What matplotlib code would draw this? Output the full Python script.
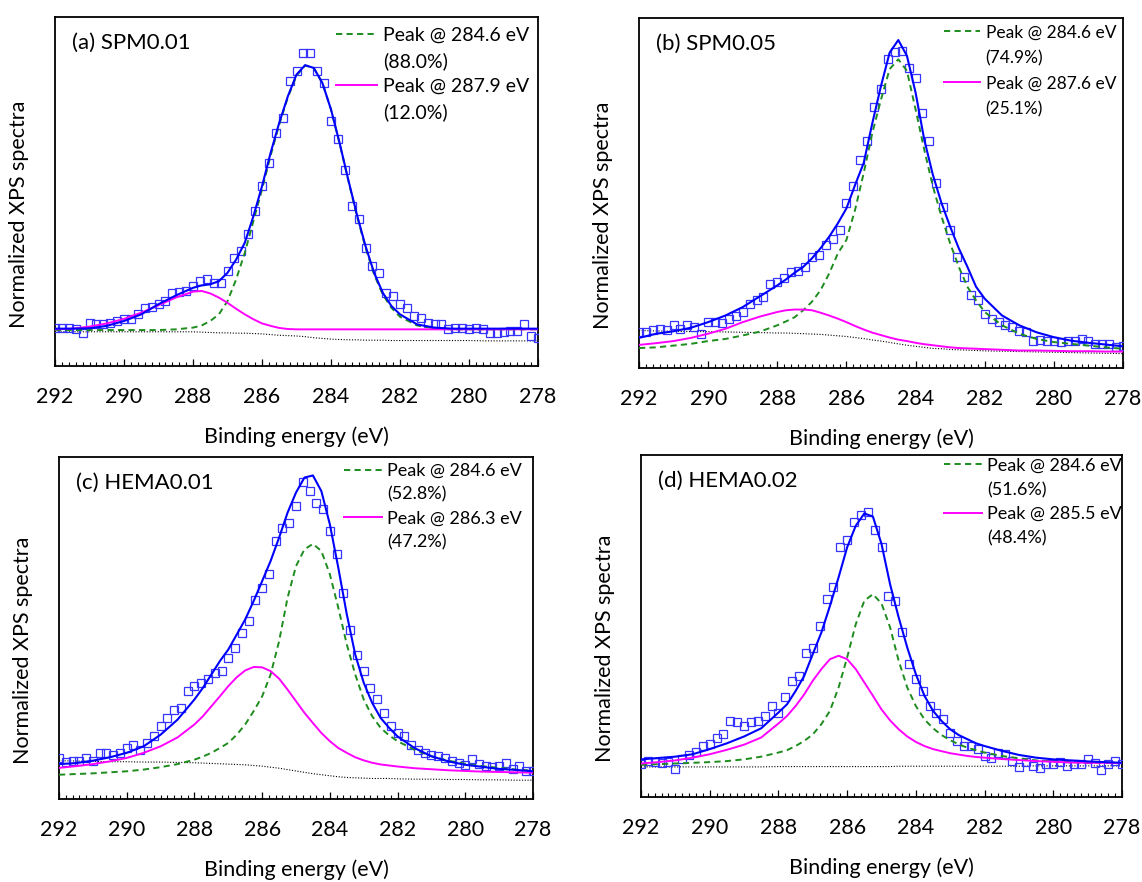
import numpy as np
import matplotlib
matplotlib.use("Agg")
import matplotlib.pyplot as plt
from matplotlib.lines import Line2D
from matplotlib.ticker import MultipleLocator

plt.rcParams['font.family'] = ['Lato', 'DejaVu Sans']

# ---------------- data (normalized intensity, % of panel height) ----------------
scan_energy = np.linspace(292.0, 278.0, 71)          # measured points, 0.2 eV step

curve_energy = [292, 291.5, 291, 290.5, 290, 289.5, 289, 288.5, 288,
                287.75, 287.5, 287.25, 287, 286.75, 286.5, 286.25, 286,
                285.75, 285.5, 285.25, 285, 284.75, 284.5, 284.25, 284,
                283.75, 283.5, 283.25, 283, 282.75, 282.5, 282.25, 282,
                281.5, 281, 280.5, 280, 279.5, 279, 278.5, 278]

panel_titles = ["(a) SPM0.01", "(b) SPM0.05", "(c) HEMA0.01", "(d) HEMA0.02"]
peak1_labels = ["Peak @ 284.6 eV", "Peak @ 284.6 eV", "Peak @ 284.6 eV", "Peak @ 284.6 eV"]
peak1_share = ["(88.0%)", "(74.9%)", "(52.8%)", "(51.6%)"]
peak2_labels = ["Peak @ 287.9 eV", "Peak @ 287.6 eV", "Peak @ 286.3 eV", "Peak @ 285.5 eV"]
peak2_share = ["(12.0%)", "(25.1%)", "(47.2%)", "(48.4%)"]
x_ticks = [292, 290, 288, 286, 284, 282, 280, 278]

# (a) SPM0.01
spm001_points = [11.0, 11.0, 11.0, 10.5, 9.5, 12.4, 11.9, 11.9, 12.4, 12.9,
                 13.4, 13.4, 14.8, 16.7, 17.0, 17.7, 18.6, 21.0, 21.2, 21.5,
                 22.9, 24.3, 24.8, 23.9, 23.9, 27.2, 31.0, 32.9, 37.7, 44.4,
                 51.5, 58.2, 66.8, 71.1, 81.6, 84.4, 89.7, 89.7, 84.4, 81.1,
                 70.1, 64.9, 56.3, 45.8, 42.0, 33.9, 28.6, 26.7, 21.0, 20.0,
                 17.7, 16.7, 14.3, 13.8, 12.4, 11.9, 11.9, 10.5, 11.0, 11.0,
                 10.5, 11.0, 10.5, 9.5, 9.5, 9.7, 10.0, 10.0, 11.9, 8.6, 8.1]
spm001_fit = [10.7, 10.7, 10.8, 11.5, 12.9, 14.8, 17.7, 20.2, 22.4, 23.1, 23.4, 24.3,
              26.7, 30.5, 35.3, 42.9, 51.5, 61.1, 69.7, 77.3, 83.5, 86.2, 85.4, 81.1,
              73.5, 63.9, 53.4, 43.4, 34.4, 26.7, 21.0, 17.2, 14.8, 11.9, 11.0, 10.7,
              10.7, 10.7, 10.7, 10.7, 10.7]
spm001_peak1 = [10.3, 10.3, 10.3, 10.3, 10.3, 10.3, 10.3, 10.5, 11.0, 11.6, 12.9, 14.8,
                18.6, 24.8, 32.4, 41.5, 50.6, 60.3, 69.2, 77.0, 83.2, 86.1, 85.4, 81.1,
                73.5, 63.7, 53.2, 43.1, 33.9, 26.2, 20.5, 16.7, 14.1, 11.6, 10.8, 10.5,
                10.5, 10.5, 10.5, 10.5, 10.5]
spm001_peak2 = [10.5, 10.7, 11.3, 12.2, 13.5, 15.3, 17.4, 19.6, 21.3, 21.5, 20.8, 19.6,
                18.1, 16.4, 14.8, 13.4, 12.2, 11.5, 10.9, 10.6, 10.5, 10.5, 10.5, 10.5,
                10.5, 10.5, 10.5, 10.5, 10.5, 10.5, 10.5, 10.5, 10.5, 10.5, 10.5, 10.5,
                10.5, 10.5, 10.5, 10.5, 10.5]
spm001_background = [9.8, 9.8, 9.8, 9.8, 9.8, 9.8, 9.8, 9.8, 9.8, 9.7, 9.6, 9.5, 9.5,
                     9.4, 9.4, 9.3, 9.2, 9.0, 8.8, 8.7, 8.6, 8.4, 8.1, 7.9, 7.7, 7.6,
                     7.5, 7.5, 7.4, 7.4, 7.4, 7.3, 7.3, 7.3, 7.3, 7.3, 7.3, 7.2, 7.2,
                     7.2, 7.2]

# (b) SPM0.05
spm005_points = [10.4, 10.2, 11.0, 11.2, 10.9, 12.2, 11.2, 12.4, 11.7, 9.8,
                 13.1, 13.1, 12.8, 14.1, 15.0, 16.0, 18.4, 19.3, 20.3, 24.1,
                 24.6, 25.6, 27.5, 27.7, 28.9, 31.8, 32.2, 35.1, 37.0, 39.4,
                 47.1, 51.9, 59.5, 64.8, 74.6, 79.6, 88.2, 90.3, 90.6, 85.8,
                 83.0, 72.9, 64.8, 52.8, 46.1, 39.4, 31.8, 26.0, 20.8, 19.3,
                 15.5, 14.1, 13.1, 12.2, 11.7, 10.7, 10.2, 7.8, 8.0, 7.8,
                 7.7, 7.4, 7.8, 7.8, 8.3, 7.8, 6.9, 6.9, 6.9, 5.9, 6.4]
spm005_fit = [8.6, 9.8, 10.5, 11.5, 13.1, 15.0, 17.4, 20.5, 23.6, 25.3, 27.2, 28.9,
              31.3, 34.2, 37.5, 41.3, 45.6, 52.3, 58.6, 70.0, 80.6, 90.1, 93.7, 89.2,
              78.7, 65.3, 55.2, 47.1, 40.4, 34.2, 28.9, 23.2, 19.8, 15.0, 12.2, 10.2,
              8.8, 7.8, 7.2, 6.7, 6.2]
spm005_peak1 = [5.7, 5.9, 6.4, 6.9, 7.7, 8.3, 9.3, 10.4, 12.2, 13.3, 14.5, 16.5, 18.9,
                22.2, 27.0, 32.7, 36.6, 45.2, 55.7, 67.2, 76.7, 85.4, 88.2, 84.9, 73.9,
                62.4, 51.9, 43.3, 35.6, 28.9, 23.2, 19.3, 16.0, 12.2, 9.8, 8.3, 7.4,
                6.9, 6.4, 5.9, 5.5]
spm005_peak2 = [6.6, 7.1, 7.7, 8.6, 9.8, 11.2, 13.1, 14.7, 16.0, 16.5, 16.7, 16.7, 16.5,
                15.8, 15.0, 14.1, 13.1, 12.0, 11.0, 10.1, 9.4, 8.7, 8.1, 7.7, 7.2, 6.8,
                6.5, 6.2, 5.9, 5.7, 5.6, 5.5, 5.4, 5.2, 5.0, 5.0, 4.9, 4.8, 4.8, 4.7,
                4.7]
spm005_background = [10.7, 10.6, 10.5, 10.4, 10.4, 10.3, 10.2, 10.1, 10.0, 10.0, 9.9,
                     9.8, 9.7, 9.6, 9.4, 9.2, 9.0, 8.7, 8.4, 8.0, 7.7, 7.3, 6.9, 6.5,
                     6.2, 5.9, 5.6, 5.5, 5.3, 5.2, 5.1, 5.0, 4.9, 4.8, 4.7, 4.6, 4.5,
                     4.4, 4.3, 4.2, 4.1]

# (c) HEMA0.01
hema001_points = [12.0, 10.8, 11.0, 11.2, 12.0, 11.0, 13.5, 13.5, 13.0, 13.5,
                  14.9, 15.9, 14.4, 16.4, 18.3, 21.3, 23.7, 26.1, 26.6, 31.5,
                  33.0, 34.0, 35.2, 36.9, 37.4, 41.3, 44.2, 48.6, 52.0, 58.3,
                  61.8, 65.7, 75.4, 79.3, 80.8, 85.7, 92.8, 90.0, 86.6, 84.7,
                  78.5, 71.5, 60.3, 49.3, 42.2, 37.4, 32.5, 29.1, 25.2, 21.3,
                  19.3, 18.3, 15.9, 14.4, 13.5, 13.0, 12.5, 12.0, 11.0, 10.5,
                  10.0, 11.8, 10.2, 9.6, 9.3, 9.6, 10.5, 8.9, 9.6, 8.3, 8.1]
hema001_fit = [10.2, 10.5, 11.2, 12.2, 13.5, 15.4, 18.8, 23.2, 29.1, 32.5, 36.4, 40.3,
               43.7, 48.1, 52.5, 57.9, 63.7, 69.6, 76.4, 83.7, 89.6, 94.0, 94.6, 90.0,
               80.3, 67.6, 54.0, 42.2, 34.0, 28.1, 23.7, 20.8, 18.3, 14.9, 12.5, 11.0,
               10.0, 9.4, 8.8, 8.5, 8.1]
hema001_peak1 = [7.1, 7.3, 7.5, 7.8, 8.1, 8.6, 9.3, 10.2, 11.5, 12.4, 13.5, 14.9, 16.4,
                 18.8, 21.8, 25.7, 30.0, 36.4, 46.1, 58.8, 68.1, 73.0, 74.6, 72.5, 65.7,
                 55.9, 45.2, 36.4, 29.1, 24.2, 20.8, 18.6, 16.9, 14.4, 12.5, 11.2, 10.3,
                 9.6, 9.1, 8.6, 8.3]
hema001_peak2 = [9.1, 9.6, 10.2, 11.0, 12.0, 13.5, 15.4, 18.0, 21.8, 24.2, 27.1, 30.0,
                 33.0, 35.6, 37.6, 38.6, 38.5, 37.4, 35.2, 32.0, 28.6, 25.2, 22.2, 19.3,
                 16.9, 14.9, 13.5, 12.2, 11.3, 10.6, 10.1, 9.8, 9.5, 9.0, 8.7, 8.4, 8.2,
                 8.0, 7.9, 7.8, 7.7]
hema001_background = [11.2, 11.1, 11.0, 10.9, 10.9, 10.8, 10.8, 10.7, 10.6, 10.5, 10.4,
                      10.3, 10.2, 10.1, 10.0, 9.8, 9.6, 9.3, 9.0, 8.6, 8.2, 7.8, 7.4,
                      7.1, 6.8, 6.5, 6.3, 6.2, 6.1, 6.0, 6.0, 6.0, 5.9, 5.8, 5.8, 5.7,
                      5.7, 5.6, 5.6, 5.5, 5.5]

# (d) HEMA0.02
hema002_points = [9.6, 10.5, 10.3, 10.0, 10.3, 8.1, 11.0, 12.3, 13.3, 14.9,
                  15.4, 17.2, 18.3, 22.2, 22.0, 20.8, 21.8, 22.2, 23.7, 26.6,
                  24.7, 29.1, 34.0, 35.4, 42.0, 43.5, 50.0, 57.9, 61.3, 73.2,
                  75.1, 80.3, 82.5, 83.2, 78.0, 73.2, 58.8, 57.4, 48.1, 38.8,
                  34.4, 31.0, 26.6, 24.7, 22.7, 18.8, 16.4, 14.9, 14.9, 14.0,
                  12.0, 11.5, 13.0, 12.5, 10.5, 8.8, 10.3, 9.1, 8.6, 9.6,
                  9.6, 10.3, 9.1, 9.6, 9.6, 11.0, 10.0, 7.8, 9.6, 10.5, 9.6]
hema002_fit = [11.0, 11.4, 11.8, 12.5, 14.0, 15.7, 17.7, 20.1, 24.7, 27.1, 31.0, 35.4,
               41.8, 48.1, 55.9, 64.2, 73.0, 79.3, 82.9, 82.0, 74.0, 62.2, 52.5, 43.7,
               35.9, 29.6, 25.2, 22.2, 19.8, 18.1, 16.9, 15.7, 14.9, 13.5, 12.3, 11.5,
               11.0, 10.7, 10.4, 10.2, 10.0]
hema002_peak1 = [9.4, 9.6, 9.8, 10.0, 10.2, 10.5, 11.0, 11.8, 13.0, 13.7, 14.9, 16.4,
                 18.3, 21.3, 25.2, 32.0, 40.8, 50.5, 57.4, 59.3, 56.6, 49.6, 39.8, 32.0,
                 26.6, 22.7, 20.1, 18.1, 16.6, 15.4, 14.4, 13.7, 13.0, 12.0, 11.3, 10.7,
                 10.4, 10.2, 10.0, 10.0, 9.9]
hema002_peak2 = [9.8, 10.2, 10.7, 11.5, 12.5, 13.8, 15.3, 17.4, 21.5, 23.7, 26.6, 30.0,
                 34.0, 37.4, 40.3, 41.3, 40.3, 37.4, 33.5, 29.6, 25.6, 22.4, 19.8, 17.7,
                 16.1, 14.9, 14.0, 13.4, 12.8, 12.4, 12.0, 11.7, 11.5, 11.1, 10.8, 10.5,
                 10.3, 10.1, 10.0, 10.0, 9.9]
hema002_background = [8.8, 8.8, 8.8, 8.8, 8.8, 8.8, 8.8, 8.8, 8.9, 8.9, 8.9, 8.9, 8.9,
                      8.9, 8.9, 8.9, 8.9, 8.9, 8.9, 8.9, 8.9, 8.9, 9.0, 9.0, 9.0, 9.0,
                      9.0, 9.0, 9.0, 9.0, 9.0, 9.0, 9.0, 9.0, 9.0, 9.1, 9.1, 9.1, 9.1,
                      9.1, 9.1]

points = [spm001_points, spm005_points, hema001_points, hema002_points]
fits = [spm001_fit, spm005_fit, hema001_fit, hema002_fit]
peak1 = [spm001_peak1, spm005_peak1, hema001_peak1, hema002_peak1]
peak2 = [spm001_peak2, spm005_peak2, hema001_peak2, hema002_peak2]
backgrounds = [spm001_background, spm005_background, hema001_background, hema002_background]

for arr in points:
    assert len(arr) == len(scan_energy)
for group in (fits, peak1, peak2, backgrounds):
    for arr in group:
        assert len(arr) == len(curve_energy)

# ---------------- layout ----------------
W, H = 1142, 882
# axes boxes in pixels: left, top, right, bottom
boxes = [(55, 17, 538, 366), (639, 18, 1123, 368), (59, 457, 533, 799), (641, 455, 1122, 797)]
legend_anchor = [(0.582, 0.972), (0.630, 0.982), (0.601, 0.982), (0.630, 0.992)]
legend_fs = [14, 12.5, 13, 13]
legend_space = [0.42, 0.55, 0.42, 0.45]

col_pts = '#3535ff'
col_fit = '#0000ff'
col_p1 = '#1e8c1e'
col_p2 = '#ff00ff'

fig = plt.figure(figsize=(W / 100, H / 100), dpi=100)

for i in range(4):
    l, t, r, b = boxes[i]
    ax = fig.add_axes([l / W, 1 - b / H, (r - l) / W, (b - t) / H])
    wpx, hpx = r - l, b - t

    ax.plot(curve_energy, backgrounds[i], color='black', lw=0.8,
            linestyle=(0, (1, 1.5)), zorder=2)
    ax.plot(scan_energy, points[i], linestyle='none', marker='s', ms=5.4,
            mfc='none', mec=col_pts, mew=0.9, zorder=3)
    l1, = ax.plot(curve_energy, peak1[i], color=col_p1, lw=1.4,
                  linestyle=(0, (3.2, 2.2)), zorder=4)
    l2, = ax.plot(curve_energy, peak2[i], color=col_p2, lw=1.4, zorder=4)
    ax.plot(curve_energy, fits[i], color=col_fit, lw=1.5, zorder=5)

    ax.set_xlim(292, 278)
    ax.set_ylim(0, 100)
    ax.set_xticks(x_ticks)
    ax.set_xticklabels([str(v) for v in x_ticks])
    ax.xaxis.set_minor_locator(MultipleLocator(0.2))
    ax.tick_params(axis='x', which='major', direction='in', length=5, width=0.9,
                   labelsize=15.5, pad=15, top=False)
    ax.tick_params(axis='x', which='minor', direction='in', length=3, width=0.8, top=False)
    ax.set_yticks([])
    for sp in ax.spines.values():
        sp.set_linewidth(1.3)

    ax.set_xlabel("Binding energy (eV)", fontsize=15.5)
    ax.xaxis.set_label_coords(0.5, -60 / hpx)
    ax.set_ylabel("Normalized XPS spectra", fontsize=15.5)
    ax.yaxis.set_label_coords(-26 / wpx, 0.436)

    ax.text(0.036, 1 - 26 / hpx, panel_titles[i], transform=ax.transAxes,
            fontsize=16, ha='left', va='center')

    blank = Line2D([], [], color='none')
    ax.legend([l1, blank, l2, blank],
              [peak1_labels[i], peak1_share[i], peak2_labels[i], peak2_share[i]],
              loc='upper left', bbox_to_anchor=legend_anchor[i], frameon=False,
              fontsize=legend_fs[i], borderpad=0, borderaxespad=0,
              handlelength=2.1, handletextpad=0.3, labelspacing=legend_space[i])

fig.savefig("out.png", dpi=100)
